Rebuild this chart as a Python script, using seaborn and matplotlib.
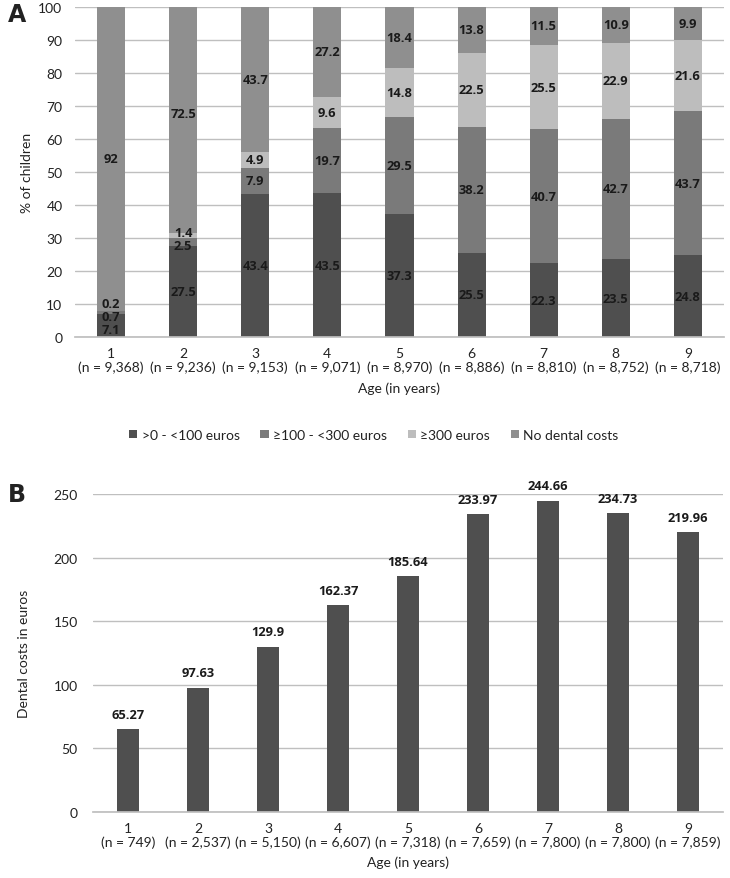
import matplotlib
matplotlib.use("Agg")
import matplotlib.pyplot as plt
from matplotlib.patches import Patch
import seaborn as sns
import pandas as pd
import numpy as np

# ---------------- data ----------------
ages = ["1", "2", "3", "4", "5", "6", "7", "8", "9"]
n_a = ["9,368", "9,236", "9,153", "9,071", "8,970", "8,886", "8,810", "8,752", "8,718"]
low = [7.1, 27.5, 43.4, 43.5, 37.3, 25.5, 22.3, 23.5, 24.8]       # >0 - <100 euros
mid = [0.7, 2.5, 7.9, 19.7, 29.5, 38.2, 40.7, 42.7, 43.7]         # >=100 - <300 euros
high = [0.2, 1.4, 4.9, 9.6, 14.8, 22.5, 25.5, 22.9, 21.6]         # >=300 euros
none = [92, 72.5, 43.7, 27.2, 18.4, 13.8, 11.5, 10.9, 9.9]        # no dental costs
series_names = [">0 - <100 euros", "\u2265100 - <300 euros", "\u2265300 euros", "No dental costs"]

n_b = ["749", "2,537", "5,150", "6,607", "7,318", "7,659", "7,800", "7,800", "7,859"]
costs = [65.27, 97.63, 129.9, 162.37, 185.64, 233.97, 244.66, 234.73, 219.96]
cost_labels = ["65.27", "97.63", "129.9", "162.37", "185.64", "233.97", "244.66", "234.73", "219.96"]

# ---------------- style ----------------
sns.set_theme(style="white")
plt.rcParams["font.family"] = ["Lato", "DejaVu Sans"]
plt.rcParams["text.color"] = "#222222"
plt.rcParams["axes.labelcolor"] = "#222222"
plt.rcParams["xtick.color"] = "#222222"
plt.rcParams["ytick.color"] = "#222222"

c_low, c_mid, c_high, c_none = "#4f4f4f", "#7a7a7a", "#bdbdbd", "#8f8f8f"
grid_c = "#bfbfbf"
FS = 10
BOLD = dict(family=["Open Sans", "DejaVu Sans"], fontweight="bold", fontsize=9.3, color="#1a1a1a")

fig = plt.figure(figsize=(7.30, 8.79), dpi=100)
axA = fig.add_axes([0.1027, 0.6155, 0.889, 0.3754])
axB = fig.add_axes([0.1274, 0.0751, 0.863, 0.3618])

# ---------------- panel A ----------------
xa = [f"{a}\n(n = {n})" for a, n in zip(ages, n_a)]
layers = [low, mid, high, none]
colors = [c_low, c_mid, c_high, c_none]
cum = np.cumsum(np.array(layers), axis=0)
dfA = pd.DataFrame({"age": xa})
for i in range(4):
    dfA[f"c{i}"] = cum[i]
for i in reversed(range(4)):
    sns.barplot(data=dfA, x="age", y=f"c{i}", order=xa, color=colors[i],
                width=0.39, saturation=1, ax=axA, zorder=2, linewidth=0)

axA.set_ylim(0, 100)
axA.set_xlim(-0.5, len(xa) - 0.5)
axA.set_yticks(range(0, 101, 10))
axA.yaxis.grid(True, color=grid_c, linewidth=1, zorder=0)
axA.set_axisbelow(True)
for s in ["top", "right", "left"]:
    axA.spines[s].set_visible(False)
axA.spines["bottom"].set_color(grid_c)
axA.tick_params(axis="both", length=0, labelsize=FS)
axA.tick_params(axis="y", pad=9)
axA.tick_params(axis="x", pad=7)
axA.set_ylabel("% of children", fontsize=FS)
axA.set_xlabel("Age (in years)", fontsize=FS, labelpad=6)
axA.yaxis.set_label_coords(-0.065, 0.5)

# segment labels (centred, spread apart when segments are thin)
min_gap = 3.9
for j in range(len(xa)):
    bottoms = np.concatenate([[0], cum[:-1, j]])
    vals = [layers[i][j] for i in range(4)]
    pos = [bottoms[i] + vals[i] / 2 for i in range(4)]
    for _ in range(50):
        for k in range(3):
            gap = pos[k + 1] - pos[k]
            if gap < min_gap:
                d = (min_gap - gap) / 2
                pos[k] -= d
                pos[k + 1] += d
        if pos[0] < 1.8:
            shift = 1.8 - pos[0]
            pos = [p + shift for p in pos]
    for i in range(4):
        axA.text(j, pos[i], f"{vals[i]:g}", ha="center", va="center", zorder=5, **BOLD)

handles = [Patch(facecolor=c, edgecolor="none") for c in colors]
fig.legend(handles, series_names, loc="center", bbox_to_anchor=(0.512, 0.504),
           ncol=4, frameon=False, fontsize=FS, handlelength=0.6, handleheight=0.6,
           handletextpad=0.3, columnspacing=1.5)

# ---------------- panel B ----------------
xb = [f"{a}\n(n = {n})" for a, n in zip(ages, n_b)]
dfB = pd.DataFrame({"age": xb, "cost": costs})
sns.barplot(data=dfB, x="age", y="cost", order=xb, color=c_low, width=0.31,
            saturation=1, ax=axB, zorder=2, linewidth=0)
axB.set_ylim(0, 250)
axB.set_xlim(-0.5, len(xb) - 0.5)
axB.set_yticks(range(0, 251, 50))
axB.yaxis.grid(True, color=grid_c, linewidth=1, zorder=0)
axB.set_axisbelow(True)
for s in ["top", "right", "left"]:
    axB.spines[s].set_visible(False)
axB.spines["bottom"].set_color(grid_c)
axB.tick_params(axis="both", length=0, labelsize=FS)
axB.tick_params(axis="y", pad=11)
axB.tick_params(axis="x", pad=7)
axB.set_ylabel("Dental costs in euros", fontsize=FS)
axB.set_xlabel("Age (in years)", fontsize=FS, labelpad=5)
axB.yaxis.set_label_coords(-0.1, 0.5)
for j, (v, lab) in enumerate(zip(costs, cost_labels)):
    axB.annotate(lab, (j, v), xytext=(0, 6), textcoords="offset points",
                 ha="center", va="bottom", **BOLD)

fig.text(0.011, 0.983, "A", fontsize=17, fontweight="bold", family="DejaVu Sans", va="center")
fig.text(0.011, 0.437, "B", fontsize=17, fontweight="bold", family="DejaVu Sans", va="center")

fig.savefig("out.png", dpi=100)
